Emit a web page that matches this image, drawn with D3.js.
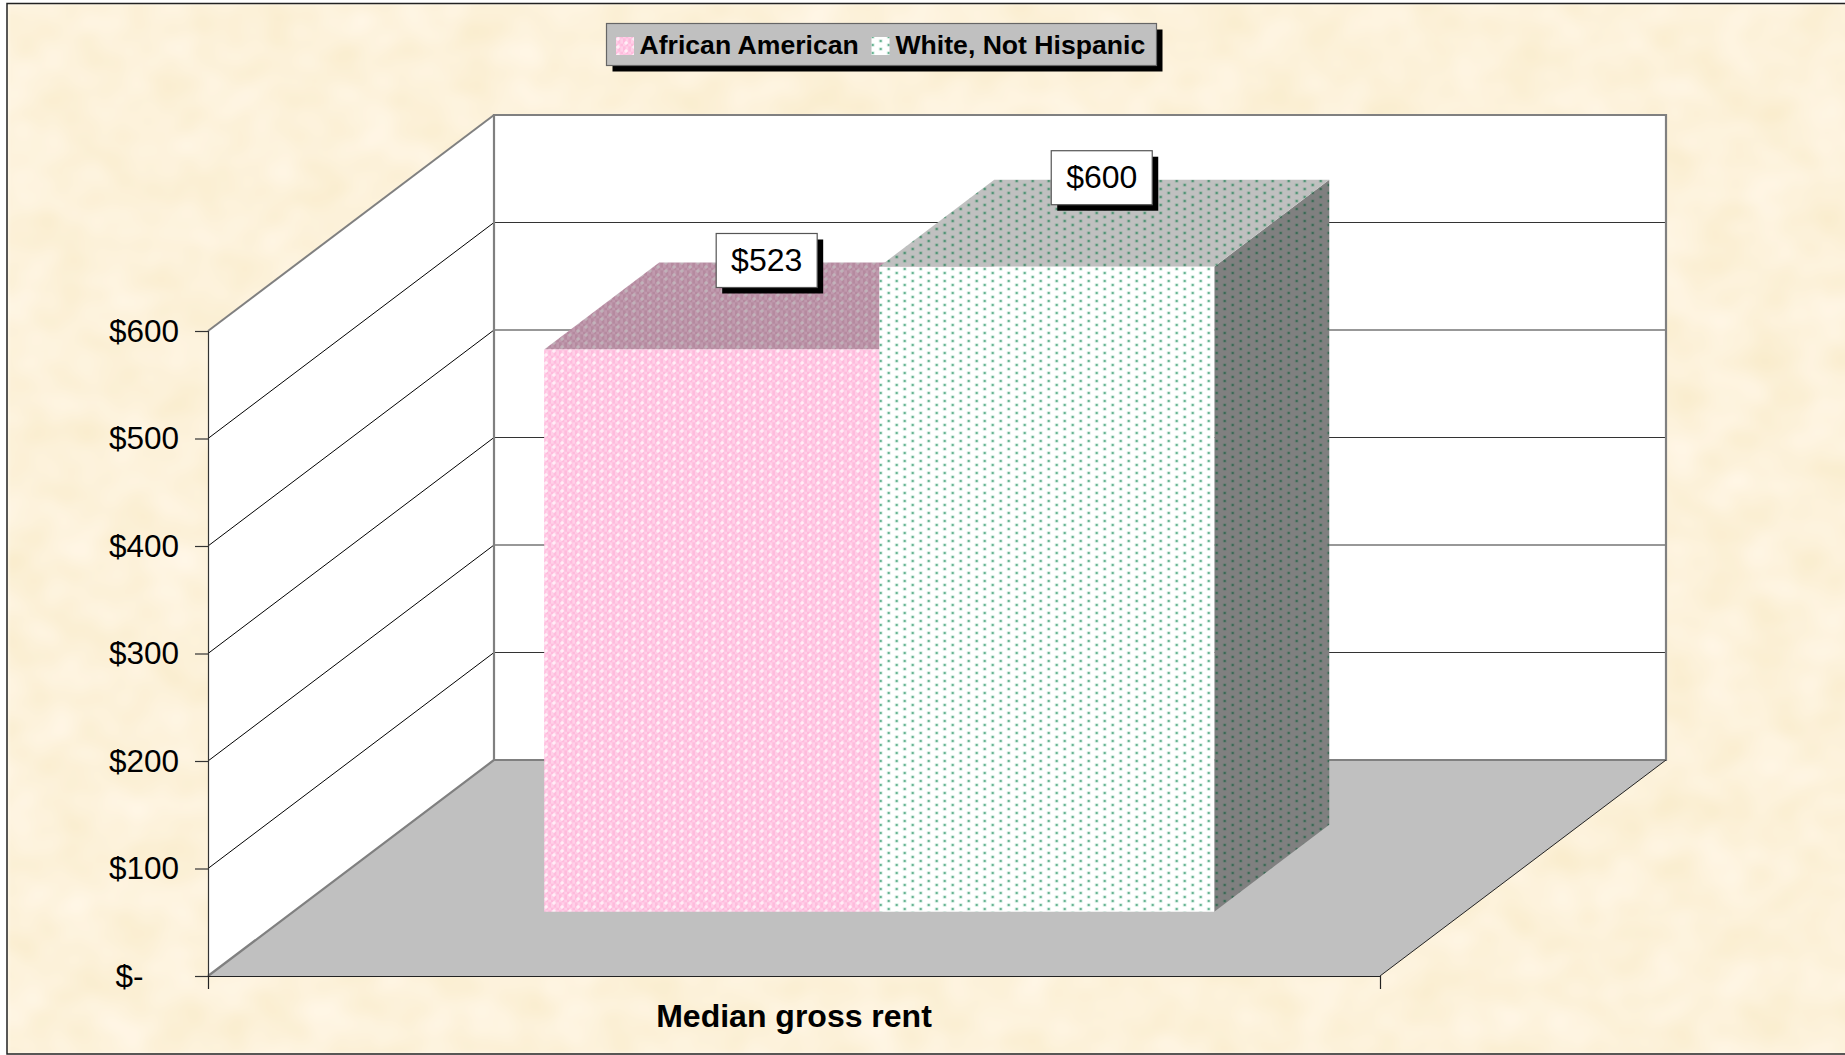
<!DOCTYPE html>
<html>
<head>
<meta charset="utf-8">
<script src="https://cdn.jsdelivr.net/npm/d3@7"></script>
<style>
html,body{margin:0;padding:0;background:#fff;overflow:hidden}
svg{display:block}
text{font-family:"Liberation Sans",Arial,sans-serif;fill:#000}
</style>
</head>
<body>
<svg id="c" width="1845" height="1055"></svg>
<script>
const categories = ["Median gross rent"];
const seriesNames = ["African American", "White, Not Hispanic"];
const seriesValues = [523, 600];
const yTicks = [0, 100, 200, 300, 400, 500, 600];
const gridTicks = [100, 200, 300, 400, 500];

const svg = d3.select("#c");
const defs = svg.append("defs");

const y = d3.scaleLinear().domain([0, 600]).range([976, 331]);
const xCat = d3.scaleBand().domain(categories).range([208, 1380]);
const xBar = d3.scaleBand().domain(seriesNames).range(xCat.range()).paddingInner(0).paddingOuter(0.749);
const depthX = 286, depthY = 216;
const barFront = 0.298, barBack = 0.7;
const P = (x, v, d) => [x + d * depthX, y(v) - d * depthY];
const poly = pts => "M" + pts.map(p => p.join(",")).join("L") + "Z";

// parchment background
const f = defs.append("filter").attr("id", "parch").attr("x", 0).attr("y", 0).attr("width", 1).attr("height", 1)
  .attr("color-interpolation-filters", "sRGB");
f.append("feTurbulence").attr("type", "fractalNoise").attr("baseFrequency", "0.02 0.024").attr("numOctaves", 2).attr("seed", 7);
f.append("feColorMatrix").attr("type", "matrix").attr("values",
  "0.03 0 0 0 0.975  0.05 0 0 0 0.922  0.13 0 0 0 0.79  0 0 0 0 1");
f.append("feGaussianBlur").attr("stdDeviation", 2);

// patterns
function pinkPattern(id, a, b, dot) {
  const p = defs.append("pattern").attr("id", id).attr("patternUnits", "userSpaceOnUse").attr("width", 16).attr("height", 8)
    .attr("patternTransform", "translate(-1,1)");
  p.append("rect").attr("width", 16).attr("height", 8).attr("fill", a);
  for (let i = 0; i < 6; i++) for (let j = 0; j < 3; j++) {
    if ((i + j) % 2 === 0) p.append("rect").attr("x", i * 8 / 3).attr("y", j * 8 / 3).attr("width", 8 / 3).attr("height", 8 / 3).attr("fill", b);
  }
  [[3, 2], [11, 6]].forEach(([cx, cy]) => {
    p.append("rect").attr("x", cx - 2).attr("y", cy - 1).attr("width", 4).attr("height", 2).attr("fill", dot).attr("opacity", 0.45);
    p.append("rect").attr("x", cx - 1).attr("y", cy - 2).attr("width", 2).attr("height", 4).attr("fill", dot).attr("opacity", 0.45);
  });
}
function dotPattern(id, bg, dark, soft) {
  const p = defs.append("pattern").attr("id", id).attr("patternUnits", "userSpaceOnUse").attr("width", 16).attr("height", 8)
    .attr("patternTransform", "translate(5.7,3)");
  p.append("rect").attr("width", 16).attr("height", 8).attr("fill", bg);
  [[3, 2], [11, 6]].forEach(([cx, cy]) => {
    p.append("rect").attr("x", cx - 1.5).attr("y", cy - 1.5).attr("width", 3).attr("height", 3).attr("fill", soft);
    p.append("rect").attr("x", cx - 0.75).attr("y", cy - 0.75).attr("width", 1.5).attr("height", 1.5).attr("fill", dark);
  });
}
pinkPattern("pinkFront", "#FFD0E8", "#FFBBDD", "#FFFFFF");
pinkPattern("pinkTop", "#C09AAE", "#B58A9F", "#C4C0C2");
dotPattern("whiteFront", "#FFFFFF", "#2E9468", "#B4DFCB");
dotPattern("whiteTop", "#C0C0C0", "#2B7F5B", "#84AC98");
dotPattern("whiteSide", "#808080", "#1E5A40", "#5F7D6F");

const fills = [
  {front: "url(#pinkFront)", top: "url(#pinkTop)", side: "url(#pinkTop)"},
  {front: "url(#whiteFront)", top: "url(#whiteTop)", side: "url(#whiteSide)"}
];

// background and frame
svg.append("rect").attr("x", 7).attr("y", 3).attr("width", 1845).attr("height", 1051).attr("filter", "url(#parch)");
svg.append("rect").attr("x", 7).attr("y", 3.5).attr("width", 1845).attr("height", 1050.5)
  .attr("fill", "none").attr("stroke", "#222").attr("stroke-width", 1.5);

const x0 = xCat.range()[0], x1 = xCat.range()[1];
const plot = svg.append("g");

// walls
plot.append("path").attr("d", poly([P(x0, 0, 0), P(x0, 600, 0), P(x0, 600, 1), P(x0, 0, 1)])).attr("fill", "#fff");
plot.append("path").attr("d", poly([P(x0, 0, 1), P(x0, 600, 1), P(x1, 600, 1), P(x1, 0, 1)])).attr("fill", "#fff");

// gridlines
const grid = plot.append("g").attr("fill", "none");
grid.selectAll(".gl").data(gridTicks).join("path").attr("class", "gl")
  .attr("d", v => "M" + P(x0, v, 0).join(",") + "L" + P(x0, v, 1).join(","))
  .attr("stroke", "#000").attr("stroke-width", 1);
grid.selectAll(".gb").data(gridTicks).join("path").attr("class", "gb")
  .attr("d", v => "M" + P(x0, v, 1).join(",") + "L" + P(x1, v, 1).join(","))
  .attr("stroke", "#333").attr("stroke-width", 1.2);

// floor
plot.append("path").attr("d", poly([P(x0, 0, 0), P(x1, 0, 0), P(x1, 0, 1), P(x0, 0, 1)])).attr("fill", "#C0C0C0");

// wall edges
const edge = plot.append("g").attr("fill", "none").attr("stroke", "#808080");
edge.append("path").attr("stroke-width", 2.2).attr("d", "M" + [P(x0, 0, 0), P(x0, 0, 1), P(x0, 600, 1), P(x1, 600, 1), P(x1, 0, 1), P(x0, 0, 1)].map(p => p.join(",")).join("L"));
edge.append("path").attr("stroke-width", 2).attr("d", "M" + P(x0, 600, 1).join(",") + "L" + P(x0, 600, 0).join(","));
plot.append("path").attr("fill", "none").attr("stroke", "#222").attr("stroke-width", 1).attr("d", "M" + P(x1, 0, 0).join(",") + "L" + P(x1, 0, 1).join(","));

// bars
const barData = seriesNames.map((name, i) => ({name, value: seriesValues[i], fill: fills[i]}));
const bars = plot.selectAll(".bar").data(barData).join("g").attr("class", "bar");
bars.append("path").attr("fill", d => d.fill.side).attr("d", d => {
  const r = xBar(d.name) + xBar.bandwidth();
  return poly([P(r, 0, barFront), P(r, d.value, barFront), P(r, d.value, barBack), P(r, 0, barBack)]);
});
bars.append("path").attr("fill", d => d.fill.top).attr("d", d => {
  const l = xBar(d.name), r = l + xBar.bandwidth();
  return poly([P(l, d.value, barFront), P(r, d.value, barFront), P(r, d.value, barBack), P(l, d.value, barBack)]);
});
bars.append("path").attr("fill", d => d.fill.front).attr("d", d => {
  const l = xBar(d.name), r = l + xBar.bandwidth();
  return poly([P(l, 0, barFront), P(r, 0, barFront), P(r, d.value, barFront), P(l, d.value, barFront)]);
});

// axes
const yAxis = svg.append("g").attr("transform", `translate(${x0},0)`)
  .call(d3.axisLeft(y).tickValues(yTicks).tickSize(13).tickPadding(16).tickFormat(v => v === 0 ? "$-" : "$" + v));
yAxis.selectAll("text").attr("font-size", 31.5).attr("font-family", '"Liberation Sans"').attr("fill", "#000").attr("dy", "0.33em")
  .filter(v => v === 0).attr("x", -64.5);
yAxis.selectAll("line").attr("stroke", "#333").attr("stroke-width", 1.2);
yAxis.select(".domain").attr("stroke", "#333").attr("stroke-width", 1.2);

const xAxis = svg.append("g").attr("transform", `translate(0,${y(0)})`)
  .call(d3.axisBottom(xCat).tickSizeInner(0).tickSizeOuter(13).tickPadding(40));
xAxis.selectAll("text").attr("font-size", 32).attr("font-weight", "bold").attr("font-family", '"Liberation Sans"').attr("fill", "#000")
  .attr("dy", 0).attr("y", 51);
xAxis.select(".domain").attr("stroke", "#222").attr("stroke-width", 1.2);

// boxed text helper
function box(g, bx, by, w, h, fill, stroke) {
  g.append("rect").attr("x", bx + 6).attr("y", by + 6).attr("width", w).attr("height", h).attr("fill", "#000");
  g.append("rect").attr("x", bx).attr("y", by).attr("width", w).attr("height", h).attr("fill", fill).attr("stroke", stroke).attr("stroke-width", 1.2);
}

// data labels
const labels = svg.append("g");
barData.forEach(d => {
  const cx = xBar(d.name) + xBar.bandwidth() / 2;
  const c = P(cx, d.value, (barFront + barBack) / 2);
  const lx = c[0] - 2.5, ly = c[1] - 45.5;
  const g = labels.append("g");
  box(g, lx - 50.5, ly - 27, 101, 54, "#fff", "#555");
  g.append("text").attr("x", lx).attr("y", ly + 10.5).attr("text-anchor", "middle").attr("font-size", 32).text("$" + d.value);
});

// legend
const legend = svg.append("g");
box(legend, 606.5, 23.5, 550, 42, "#C0C0C0", "#666");
const legendSwatchX = [616, 871.5], legendTextX = [639.5, 895.5];
seriesNames.forEach((name, i) => {
  legend.append("rect").attr("x", legendSwatchX[i]).attr("y", 37).attr("width", 18).attr("height", 18).attr("fill", fills[i].front);
  legend.append("text").attr("x", legendTextX[i]).attr("y", 54).attr("font-size", 26.6).attr("font-weight", "bold").text(name);
});
</script>
</body>
</html>
